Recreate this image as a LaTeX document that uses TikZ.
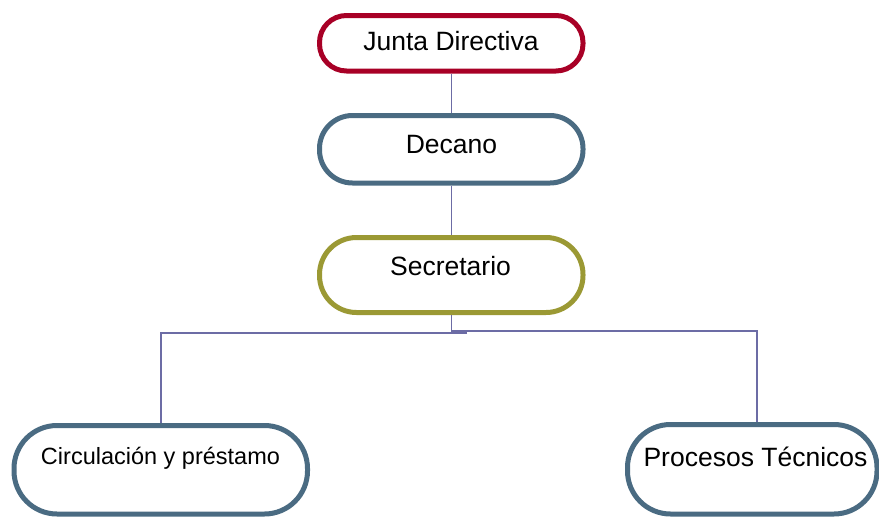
\documentclass[tikz,border=0pt]{standalone}
\usepackage{fontspec}
\setmainfont{Liberation Sans}
\definecolor{jdred}{RGB}{168,0,38}
\definecolor{bgray}{RGB}{74,107,130}
\definecolor{olive}{RGB}{155,153,52}
\definecolor{connc}{RGB}{108,108,165}
\tikzset{
  box/.style={draw, line width=5pt, fill=white, inner sep=0pt, rectangle},
  lbl/.style={inner sep=0pt, anchor=base, font=\fontsize{26.5}{30}\selectfont},
  slbl/.style={inner sep=0pt, anchor=base, font=\fontsize{23.5}{27}\selectfont},
  conn/.style={draw=connc, line width=1.5pt}
}
\begin{document}
\begin{tikzpicture}[x=1pt,y=-1pt]
\useasboundingbox (0,0) rectangle (879,517);
\node[box, draw=jdred, minimum width=263.5pt, minimum height=55.5pt, rounded corners=27pt] (jd) at (451.25,43.25) {};
\node[box, draw=bgray, minimum width=263.5pt, minimum height=67.5pt, rounded corners=33pt] (dec) at (451.25,149.25) {};
\node[box, draw=olive, minimum width=263.5pt, minimum height=75pt, rounded corners=37pt] (sec) at (451.25,275) {};
\node[box, draw=bgray, minimum width=293.5pt, minimum height=88.5pt, rounded corners=43pt] (circ) at (160.75,469.75) {};
\node[box, draw=bgray, minimum width=249.5pt, minimum height=89.5pt, rounded corners=43pt] (proc) at (752.25,469.25) {};
\coordinate (rb) at (757,331);
\coordinate (lb) at (161,333);
\coordinate (le) at (467,333);
\draw[conn] (jd.south) -- (dec.north);
\draw[conn] (dec.south) -- (sec.north);
\draw[conn] (sec.south) |- (rb) -- (rb |- proc.north);
\draw[conn] (le) -- (lb) -- (lb |- circ.north);
\node[lbl] (jdt) at (451,50) {Junta Directiva};
\node[lbl] (dect) at (451.5,153) {Decano};
\node[lbl] (sect) at (450.5,275) {Secretario};
\node[slbl] (circt) at (160.5,464) {Circulación y préstamo};
\node[lbl] (proct) at (755.5,466.5) {Procesos Técnicos};
\end{tikzpicture}
\end{document}
